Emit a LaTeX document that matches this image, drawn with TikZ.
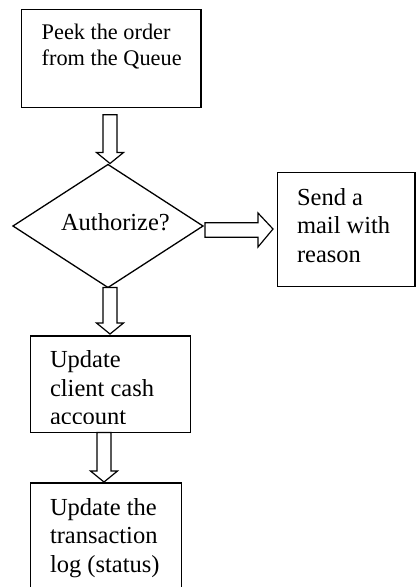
\documentclass[tikz,border=0pt]{standalone}
\usepackage{fontspec}
\setmainfont{Liberation Serif}
\usetikzlibrary{shapes.geometric,calc}

\tikzset{
  box/.style={draw, line width=1.3pt, rectangle, inner sep=0pt, outer sep=0pt},
  decision/.style={draw, line width=1.3pt, diamond, inner sep=0pt, outer sep=0pt},
  txt/.style={anchor=base west, inner sep=0pt, outer sep=0pt,
    font=\fontsize{24.5pt}{28.7pt}\selectfont},
  smalltxt/.style={txt, font=\fontsize{22.3pt}{26.4pt}\selectfont},
  blockarrow/.style={draw, line width=1.2pt, fill=white, line join=miter},
}

\begin{document}
\begin{tikzpicture}[x=1pt, y=-1pt]
  \useasboundingbox (0,0) rectangle (416,587);
  \clip (0,0) rectangle (416,587);

  % process boxes and the decision
  \node[box, minimum width=179.5, minimum height=98.4] (peek) at (111.25,58.5) {};
  \node[decision, minimum width=190, minimum height=123] (auth) at (108,226) {};
  \node[box, minimum width=137.5, minimum height=114.4] (mail) at (346.25,229.5) {};
  \node[box, minimum width=160, minimum height=96.5] (upd) at (110.7,384.25) {};
  \node[box, minimum width=151, minimum height=114] (log) at (106.2,540) {};

  % texts
  \node[smalltxt] (peektext) at (41.7,39.3)
    {\vtop{\hbox{Peek the order}\hbox{from the Queue}}};
  \node[txt] (authtext) at (61,230) {Authorize?};
  \node[txt] (mailtext) at (297,205)
    {\vtop{\hbox{Send a}\hbox{mail with}\hbox{reason}}};
  \begin{scope}
    % the last line is cut off by the frame of its box
    \clip (0,0) rectangle (416,423.8);
    \node[txt] (updtext) at (50,367.3)
      {\vtop{\hbox{Update}\hbox{client cash}\hbox{account}}};
  \end{scope}
  \node[txt] (logtext) at (50,515)
    {\vtop{\hbox{Update the}\hbox{transaction}\hbox{log (status)}}};

  % block arrow end points
  \coordinate (a1s) at ($(peek.south)+(-1.25,7)$);
  \coordinate (a1t) at ($(a1s |- auth.north)+(0,-1)$);
  \coordinate (a2s) at ($(auth.south)+(2,0)$);
  \coordinate (a2t) at ($(a2s |- upd.north)+(0,-2)$);
  \coordinate (a3s) at ($(upd.south)+(-6.7,0)$);
  \coordinate (a3t) at ($(a3s |- log.north)+(0,-1)$);
  \coordinate (a4s) at ($(auth.east)+(2,4)$);
  \coordinate (a4t) at ($(a4s -| mail.west)+(-4.5,-1)$);

  % hollow block arrows pointing down
  \foreach \s/\t in {a1s/a1t, a2s/a2t, a3s/a3t}{
    \draw[blockarrow] let \p1=(\s), \p2=(\t) in
      (\x1-7pt,\y1) -- (\x1-7pt,\y2+11pt) -- (\x1-13.5pt,\y2+11pt) -- (\x1,\y2)
      -- (\x1+13.5pt,\y2+11pt) -- (\x1+7pt,\y2+11pt) -- (\x1+7pt,\y1) -- cycle;
  }

  % hollow block arrow pointing right
  \draw[blockarrow] let \p1=(a4s), \p2=(a4t) in
    (\x1,\y1+7.3pt) -- (\x2-15pt,\y1+7.3pt) -- (\x2-15pt,\y1+17pt) -- (\x2,\y2)
    -- (\x2-15pt,\y1-17pt) -- (\x2-15pt,\y1-7.3pt) -- (\x1,\y1-7.3pt) -- cycle;
\end{tikzpicture}
\end{document}
